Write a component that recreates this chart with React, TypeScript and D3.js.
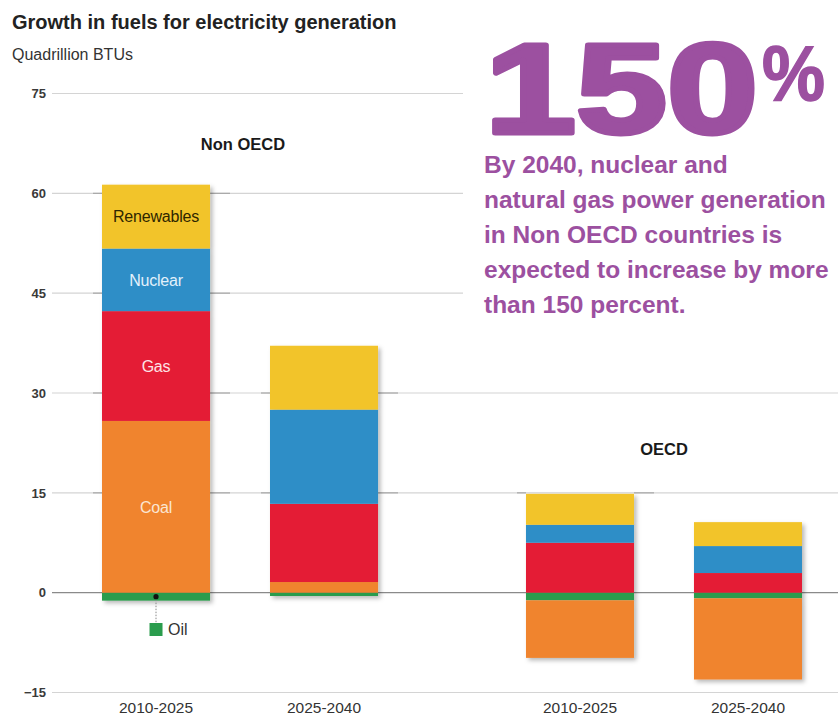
import React from 'react';
import * as d3 from 'd3';

const groups = ['Non OECD', 'OECD'];
const periods = ['2010-2025', '2025-2040'];
const fuels = ['Oil', 'Coal', 'Gas', 'Nuclear', 'Renewables'];
const oil = [-1.2, -0.5, -1.15, -0.85];
const coal = [25.8, 1.6, -8.65, -12.2];
const gas = [16.5, 11.75, 7.5, 2.95];
const nuclear = [9.4, 14.15, 2.7, 4.05];
const renewables = [9.6, 9.6, 4.65, 3.6];
const yTicks = [-15, 0, 15, 30, 45, 60, 75];
const fuelColors = ['#2a9c4d', '#f0842f', '#e41e36', '#2e8ec7', '#f2c42c'];
const fuelLabelColors = ['#333333', '#fbe6d2', '#fde3e6', '#e2f1fb', '#2e2600'];
const title = 'Growth in fuels for electricity generation';
const subtitle = 'Quadrillion BTUs';
const headline = '150';
const headlinePct = '%';
const paragraph = [
  'By 2040, nuclear and',
  'natural gas power generation',
  'in Non OECD countries is',
  'expected to increase by more',
  'than 150 percent.',
];

const W = 838;
const H = 717;
const PURPLE = '#9c50a0';
const SANS = '"Liberation Sans", Arial, Helvetica, sans-serif';

export default function App() {
  const rows = [0, 1, 2, 3].map((i) => ({
    group: groups[Math.floor(i / 2)],
    period: periods[i % 2],
    Oil: oil[i],
    Coal: coal[i],
    Gas: gas[i],
    Nuclear: nuclear[i],
    Renewables: renewables[i],
  }));
  const series = d3.stack<any>().keys(fuels).offset(d3.stackOffsetDiverging)(rows);

  const y = d3.scaleLinear().domain([-15, 75]).range([692.5, 93.5]);
  const xOuter = d3.scaleBand<string>().domain(groups).range([102, 802]).paddingInner(0.349).paddingOuter(0);
  const xInner = d3.scaleBand<string>().domain(periods).range([0, xOuter.bandwidth()]).paddingInner(0.357).paddingOuter(0);
  const barX = (r: any) => (xOuter(r.group) as number) + (xInner(r.period) as number);
  const bw = xInner.bandwidth();
  const fmt = d3.format('d');

  const extents = rows.map((_, i) => {
    const vals = series.flatMap((s) => [s[i][0], s[i][1]]);
    return [d3.min(vals) as number, d3.max(vals) as number];
  });

  const first = rows[0];
  const fx = barX(first);
  const oilSeg = series[0][0];

  return (
    <svg width={W} height={H} style={{ position: 'absolute', left: 0, top: 0, display: 'block', background: '#fff' }}>
      <defs>
        <filter id="shadow" x="-10%" y="-10%" width="130%" height="130%">
          <feDropShadow dx="2.5" dy="2.5" stdDeviation="2" floodColor="#000" floodOpacity="0.28" />
        </filter>
      </defs>
      <rect x={0} y={0} width={W} height={H} fill="#fff" />
      {/* gridlines */}
      {yTicks.map((t) => (
        <line key={'g' + t} x1={52} x2={W} y1={y(t)} y2={y(t)} stroke={t === 0 ? '#8a8a8a' : '#d4d4d4'} strokeWidth={t === 0 ? 1.3 : 1.2} />
      ))}
      {/* darker stubs beside bars */}
      {rows.map((r, i) =>
        yTicks
          .filter((t) => t !== 0 && t >= extents[i][0] - 0.4 && t <= extents[i][1] + 0.4)
          .map((t) => (
            <g key={'s' + i + t}>
              <line x1={barX(r) - 9} x2={barX(r)} y1={y(t)} y2={y(t)} stroke="#a8a8a8" strokeWidth={1.2} />
              <line x1={barX(r) + bw} x2={barX(r) + bw + 20} y1={y(t)} y2={y(t)} stroke="#a8a8a8" strokeWidth={1.2} />
            </g>
          ))
      )}
      {/* white panel behind headline text */}
      <rect x={463} y={0} width={W - 463} height={335} fill="#fff" />
      {/* tick labels */}
      {yTicks.map((t) => (
        <text key={'t' + t} x={46} y={y(t)} dy="0.36em" textAnchor="end" fontFamily={SANS} fontSize={13} fontWeight="bold" fill="#3a3a3a">
          {fmt(t)}
        </text>
      ))}
      {/* bars */}
      <g filter="url(#shadow)">
        {rows.map((r, i) => (
          <g key={'b' + i}>
            {series.map((s, k) => (
              <rect
                key={s.key}
                x={barX(r)}
                width={bw}
                y={y(Math.max(s[i][0], s[i][1]))}
                height={Math.abs(y(s[i][0]) - y(s[i][1]))}
                fill={fuelColors[k]}
              />
            ))}
          </g>
        ))}
      </g>
      {/* labels in the first bar */}
      {series.slice(1).map((s, k) => {
        const seg = s[0];
        return (
          <text
            key={'l' + s.key}
            x={fx + bw / 2}
            y={y((seg[0] + seg[1]) / 2)}
            dy="0.36em"
            textAnchor="middle"
            fontFamily={SANS}
            fontSize={16}
            fill={fuelLabelColors[k + 1]}
            letterSpacing="-0.2"
          >
            {s.key}
          </text>
        );
      })}
      {/* Oil annotation */}
      <line x1={fx + bw / 2} x2={fx + bw / 2} y1={y((oilSeg[0] + oilSeg[1]) / 2)} y2={624} stroke="#888" strokeWidth={1} strokeDasharray="1.5,1.5" />
      <circle cx={fx + bw / 2} cy={y((oilSeg[0] + oilSeg[1]) / 2)} r={2.6} fill="#111" />
      <rect x={fx + bw / 2 - 6.5} y={623} width={13} height={13} fill={fuelColors[0]} />
      <text x={fx + bw / 2 + 12} y={635} fontFamily={SANS} fontSize={16} fill="#333">
        {fuels[0]}
      </text>
      {/* x labels */}
      {rows.map((r, i) => (
        <text key={'x' + i} x={barX(r) + bw / 2} y={713} textAnchor="middle" fontFamily={SANS} fontSize={15.5} fill="#333">
          {r.period}
        </text>
      ))}
      {/* group labels */}
      <text x={(xOuter(groups[0]) as number) + xOuter.bandwidth() / 2 + 3} y={150} textAnchor="middle" fontFamily={SANS} fontSize={16.5} fontWeight="bold" fill="#1a1a1a">
        {groups[0]}
      </text>
      <text x={(xOuter(groups[1]) as number) + xOuter.bandwidth() / 2} y={455} textAnchor="middle" fontFamily={SANS} fontSize={16.5} fontWeight="bold" fill="#1a1a1a">
        {groups[1]}
      </text>
      {/* titles */}
      <text x={12} y={29} fontFamily={SANS} fontSize={20} fontWeight="bold" fill="#222">
        {title}
      </text>
      <text x={12} y={60} fontFamily={SANS} fontSize={16} fill="#333">
        {subtitle}
      </text>
      {/* headline */}
      <text x={485} y={133} fontFamily={SANS} fontSize={128} fontWeight="bold" fill={PURPLE} stroke={PURPLE} strokeWidth={5} strokeLinejoin="round" textLength={273} lengthAdjust="spacingAndGlyphs">
        {headline}
      </text>
      <text x={762} y={100} fontFamily={SANS} fontSize={78} fontWeight="bold" fill={PURPLE} stroke={PURPLE} strokeWidth={1.5} textLength={63} lengthAdjust="spacingAndGlyphs">
        {headlinePct}
      </text>
      {paragraph.map((line, i) => (
        <text key={'p' + i} x={484} y={173 + i * 35} fontFamily={SANS} fontSize={24.5} fontWeight="bold" fill={PURPLE}>
          {line}
        </text>
      ))}
    </svg>
  );
}
